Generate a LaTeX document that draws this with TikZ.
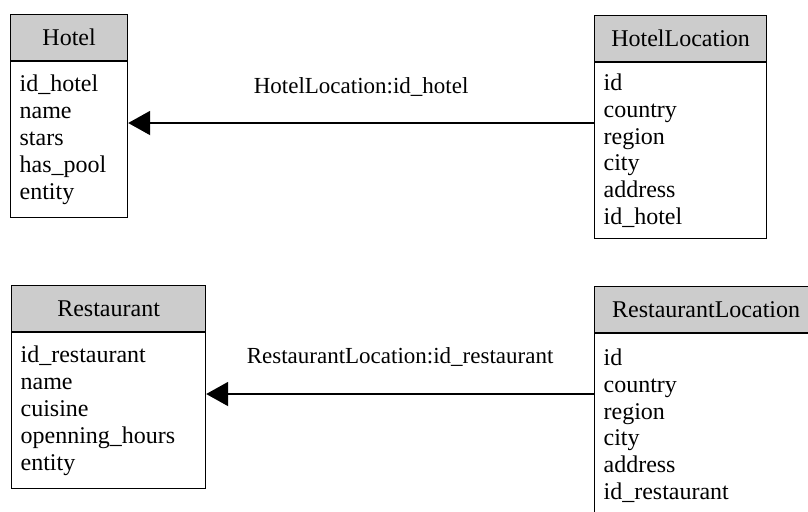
\documentclass[tikz,border=0pt]{standalone}
\usepackage{fontspec}
\setmainfont{Liberation Serif}
\usepackage{tikz}
\usetikzlibrary{positioning,arrows.meta}
\definecolor{cabecera}{RGB}{204,204,204}

\begin{document}
\begin{tikzpicture}[
  x=0.5pt, y=-0.5pt,
  head/.style={draw, fill=cabecera, anchor=north west, minimum width=#1, minimum height=23pt, inner sep=0pt, line width=0.6pt, font=\fontsize{12}{13.4}\selectfont},
  attrs/.style={draw, fill=white, anchor=north west, align=left, inner xsep=4.5pt, inner ysep=0pt, text width=#1, line width=0.6pt, font=\fontsize{12}{13.4}\selectfont},
  fk/.style={line width=1pt, -{Triangle[length=11pt, width=12pt]}},
  every node/.style={font=\fontsize{11.5}{13.4}\selectfont}
]
\useasboundingbox (0,0) rectangle (808,511);
\clip (0,0) rectangle (808,511);

\node[head=58.5pt]  (hotel)    at (10,14)  {Hotel};
\node[attrs=49.5pt, minimum height=78pt] (hotelattr) at (hotel.south west)
  {id\_hotel\\name\\stars\\has\_pool\\entity};

\node[head=86pt]    (hotelloc) at (594,15) {HotelLocation};
\node[attrs=77pt, minimum height=88pt] (hotellocattr) at (hotelloc.south west)
  {id\\country\\region\\city\\address\\id\_hotel};

\node[head=97pt]    (rest)     at (11,285) {Restaurant};
\node[attrs=88pt, minimum height=78pt] (restattr) at (rest.south west)
  {id\_restaurant\\name\\cuisine\\openning\_hours\\entity};

\node[head=111.5pt] (restloc)  at (594,286) {RestaurantLocation};
\node[attrs=102.5pt, minimum height=92pt] (restlocattr) at (restloc.south west)
  {id\\country\\region\\city\\address\\id\_restaurant};

% foreign keys
\coordinate (hrow) at (0,123);
\coordinate (rrow) at (0,394);
\draw[fk] (hotellocattr.west |- hrow) -- (hotelattr.east |- hrow)
  node[midway, yshift=18pt] {HotelLocation:id\_hotel};
\draw[fk] (restlocattr.west |- rrow) -- (restattr.east |- rrow)
  node[midway, yshift=18.5pt] {RestaurantLocation:id\_restaurant};
\end{tikzpicture}
\end{document}
